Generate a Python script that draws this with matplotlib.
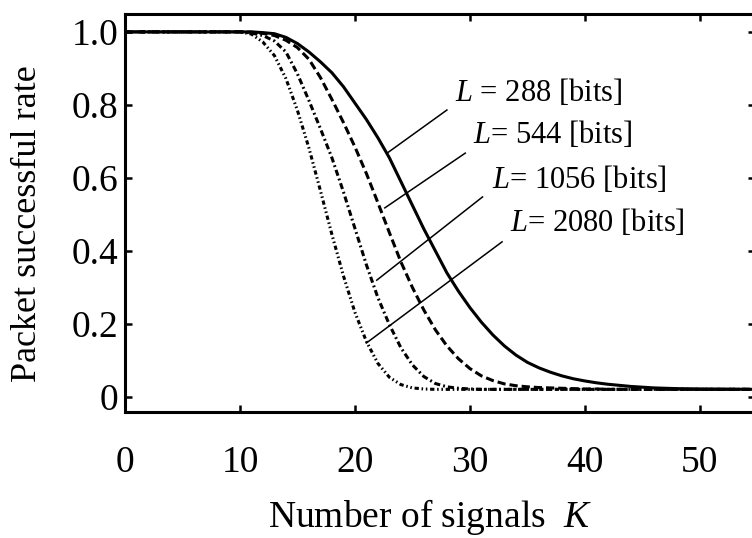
import matplotlib
matplotlib.use("Agg")
import matplotlib.pyplot as plt

plt.rcParams["font.family"] = ["Liberation Serif", "DejaVu Serif"]
plt.rcParams["mathtext.fontset"] = "custom"
plt.rcParams["mathtext.it"] = "Liberation Serif:italic"
plt.rcParams["mathtext.rm"] = "Liberation Serif"

# number of signals K
K = [0, 5, 10, 11, 12, 13, 14, 15, 16, 17, 18, 19, 20, 21, 22, 23, 24, 25, 26, 27,
     28, 29, 30, 31, 32, 33, 34, 35, 36, 37, 38, 39, 40, 41, 42, 43, 44, 45, 46,
     48, 50, 55]

# packet successful rate, one list per packet length
rate_288 = [1.0, 1.0, 1.0, 1.0, 0.998, 0.995, 0.985, 0.968, 0.945, 0.918, 0.888,
            0.85, 0.805, 0.76, 0.71, 0.655, 0.59, 0.525, 0.46, 0.40, 0.34, 0.29,
            0.245, 0.205, 0.17, 0.14, 0.115, 0.095, 0.08, 0.068, 0.058, 0.05,
            0.044, 0.039, 0.035, 0.032, 0.029, 0.027, 0.025, 0.023, 0.022, 0.021]
rate_544 = [1.0, 1.0, 1.0, 0.999, 0.996, 0.99, 0.977, 0.957, 0.925, 0.875, 0.815,
            0.752, 0.685, 0.612, 0.532, 0.45, 0.37, 0.30, 0.238, 0.184, 0.14,
            0.105, 0.078, 0.058, 0.045, 0.036, 0.031, 0.028, 0.026, 0.025, 0.024,
            0.023, 0.022, 0.022, 0.021, 0.021, 0.021, 0.021, 0.021, 0.021, 0.021,
            0.021]
rate_1056 = [1.0, 1.0, 1.0, 0.997, 0.99, 0.975, 0.945, 0.885, 0.812, 0.735, 0.655,
             0.562, 0.462, 0.362, 0.272, 0.198, 0.135, 0.088, 0.056, 0.037, 0.028,
             0.024, 0.022, 0.021, 0.021, 0.021, 0.021, 0.021, 0.021, 0.021, 0.021,
             0.021, 0.021, 0.021, 0.021, 0.021, 0.021, 0.021, 0.021, 0.021, 0.021,
             0.021]
rate_2080 = [1.0, 1.0, 1.0, 0.994, 0.972, 0.935, 0.872, 0.785, 0.682, 0.565, 0.445,
             0.332, 0.232, 0.152, 0.092, 0.054, 0.034, 0.025, 0.022, 0.021, 0.021,
             0.021, 0.021, 0.021, 0.021, 0.021, 0.021, 0.021, 0.021, 0.021, 0.021,
             0.021, 0.021, 0.021, 0.021, 0.021, 0.021, 0.021, 0.021, 0.021, 0.021,
             0.021]

labels = ["$L$ = 288 [bits]", "$L$= 544 [bits]", "$L$= 1056 [bits]", "$L$= 2080 [bits]"]

x_ticks = [0, 10, 20, 30, 40, 50]
y_ticks = [0, 0.2, 0.4, 0.6, 0.8, 1.0]
y_tick_labels = ["0", "0.2", "0.4", "0.6", "0.8", "1.0"]

fig = plt.figure(figsize=(7.52, 5.38), dpi=100)
ax = fig.add_axes([0.1662, 0.2342, 0.8378, 0.7398])

lw = 2.2
ax.plot(K, rate_288, color="black", lw=lw, linestyle="-")
ax.plot(K, rate_544, color="black", lw=lw, linestyle=(0, (2.7, 1.3)))
ax.plot(K, rate_1056, color="black", lw=lw, linestyle=(0, (2.0, 1.0, 0.6, 1.0)))
ax.plot(K, rate_2080, color="black", lw=lw,
        linestyle=(0, (1.4, 0.9, 0.5, 0.9, 0.5, 0.9)))

# leader lines and labels
text_pos = [(28.7, 0.833), (30.3, 0.718), (31.9, 0.595), (33.5, 0.477)]
leaders = [((28.0, 0.786), (22.8, 0.668)),
           ((29.6, 0.668), (22.6, 0.518)),
           ((31.1, 0.548), (21.9, 0.32)),
           ((32.8, 0.425), (21.0, 0.148))]
for lab, (tx, ty), (p0, p1) in zip(labels, text_pos, leaders):
    ax.plot([p0[0], p1[0]], [p0[1], p1[1]], color="black", lw=1.1)
    ax.text(tx, ty, lab, fontsize=22, ha="left", va="center")

ax.set_xlim(0, 54.8)
ax.set_ylim(-0.041, 1.049)
ax.set_xticks(x_ticks)
ax.set_yticks(y_ticks)
ax.set_yticklabels(y_tick_labels)
ax.tick_params(direction="in", length=5, width=1.8, labelsize=27,
               top=True, right=True)
ax.tick_params(axis="x", pad=24)
ax.tick_params(axis="y", pad=5)
for s in ax.spines.values():
    s.set_linewidth(2.2)

fig.text(28 / 752, 1 - 224 / 538, "Packet successful rate", rotation=90,
         fontsize=26, ha="center", va="center")
fig.text(430 / 752, 1 - 527 / 538, "Number of signals  $K$", fontsize=27,
         ha="center", va="baseline")

fig.savefig("out.png", dpi=100)
